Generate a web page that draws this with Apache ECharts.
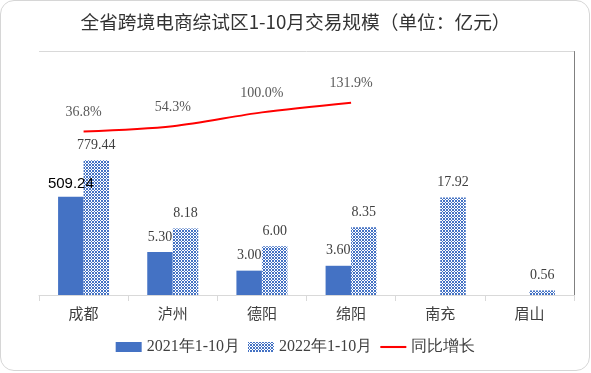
<!DOCTYPE html>
<html>
<head>
<meta charset="utf-8">
<script src="https://cdn.jsdelivr.net/npm/echarts@6/dist/echarts.min.js"></script>
<style>
html,body{margin:0;padding:0;background:#fff;}
#wrap{position:relative;width:591px;height:373px;}
#chart{position:absolute;left:0;top:0;width:591px;height:373px;}
#frame{position:absolute;left:0;top:0;width:590px;height:371px;box-sizing:border-box;border:1px solid #d6d6d6;border-radius:14px;pointer-events:none;}
</style>
</head>
<body>
<div id="wrap"><div id="chart"></div><div id="frame"></div></div>
<script>
// Categories
var categories = ['成都', '泸州', '德阳', '绵阳', '南充', '眉山'];
// Labelled values (亿元)
var values2021 = [509.24, 5.30, 3.00, 3.60, null, null];
var values2022 = [779.44, 8.18, 6.00, 8.35, 17.92, 0.56];
// Drawn bar heights (the original is not to scale)
var barHeight2021 = [12.1, 5.30, 3.00, 3.60, null, null];
var barHeight2022 = [16.6, 8.18, 6.00, 8.35, 12.0, 0.56];
// Year-on-year growth (%)
var growth = [36.8, 54.3, 100.0, 131.9, null, null];
var seriesNames = ['2021年1-10月', '2022年1-10月', '同比增长'];

var blue = '#4472C4';
var pc = document.createElement('canvas');
pc.width = 3; pc.height = 3;
var ctx = pc.getContext('2d');
ctx.fillStyle = '#ffffff'; ctx.fillRect(0, 0, 3, 3);
ctx.fillStyle = blue;
[[0,0],[2,0],[1,1],[0,2],[2,2]].forEach(function (p) { ctx.fillRect(p[0], p[1], 1, 1); });
var pattern = { image: pc, repeat: 'repeat' };

var labelBase = { fontFamily: 'Liberation Serif', fontSize: 14, color: '#404040' };

var data2021 = barHeight2021.map(function (h, i) {
  var item = { value: h, real: values2021[i] };
  if (i === 0) {
    item.label = { fontFamily: 'Liberation Sans', fontSize: 15, color: '#000', distance: 5 };
  }
  return item;
});
var data2022 = barHeight2022.map(function (h, i) {
  return { value: h, real: values2022[i] };
});

var chart = echarts.init(document.getElementById('chart'), null, { renderer: 'canvas' });
chart.setOption({
  animation: false,
  title: {
    text: '全省跨境电商综试区1-10月交易规模（单位：亿元）',
    left: 'center', top: 8,
    textStyle: { fontFamily: 'Noto Sans CJK SC', fontSize: 18.7, fontWeight: 'normal', color: '#333' }
  },
  legend: {
    bottom: 13, left: 'center',
    itemWidth: 26, itemHeight: 10, itemGap: 8,
    textStyle: { fontFamily: 'Liberation Serif', fontSize: 16, color: '#404040' },
    data: [
      { name: seriesNames[0], icon: 'rect' },
      { name: seriesNames[1], icon: 'rect' },
      { name: seriesNames[2], icon: 'path://M0,0H30V2.4H0Z' }
    ]
  },
  grid: { left: 39, right: 17, top: 51.5, bottom: 78, containLabel: false },
  xAxis: {
    type: 'category', data: categories,
    axisLine: { lineStyle: { color: '#d9d9d9' } },
    axisTick: { show: true, length: 6, lineStyle: { color: '#d9d9d9' } },
    axisLabel: { fontFamily: 'Noto Sans CJK SC', fontSize: 15, color: '#404040', margin: 11 }
  },
  yAxis: [
    {
      type: 'value', min: 0, max: 30, interval: 30,
      axisLine: { show: false }, axisTick: { show: false }, axisLabel: { show: false },
      splitLine: { lineStyle: { color: '#d9d9d9' } }
    },
    {
      type: 'value', min: -500, max: 300, position: 'right',
      axisLine: { show: true, lineStyle: { color: '#808080' } },
      axisTick: { show: false }, axisLabel: { show: false }, splitLine: { show: false }
    }
  ],
  series: [
    {
      name: seriesNames[0], type: 'bar', data: data2021,
      barWidth: 25.5, barGap: '0%',
      itemStyle: { color: blue },
      label: Object.assign({ show: true, position: 'top', distance: 8,
        formatter: function (p) { return p.data.real == null ? '' : p.data.real.toFixed(2); } }, labelBase)
    },
    {
      name: seriesNames[1], type: 'bar', data: data2022,
      barWidth: 25.5, barGap: '0%',
      itemStyle: { color: pattern },
      label: Object.assign({ show: true, position: 'top', distance: 8,
        formatter: function (p) { return p.data.real == null ? '' : p.data.real.toFixed(2); } }, labelBase)
    },
    {
      name: seriesNames[2], type: 'line', yAxisIndex: 1, data: growth,
      smooth: 0.3, symbol: 'circle', symbolSize: 0, showSymbol: true,
      lineStyle: { color: '#ff0000', width: 2 }, itemStyle: { color: '#ff0000' },
      label: Object.assign({ show: true, position: 'top', distance: 12,
        formatter: function (p) { return p.value == null ? '' : p.value.toFixed(1) + '%'; } }, labelBase, { color: '#595959' })
    }
  ]
});
</script>
</body>
</html>
